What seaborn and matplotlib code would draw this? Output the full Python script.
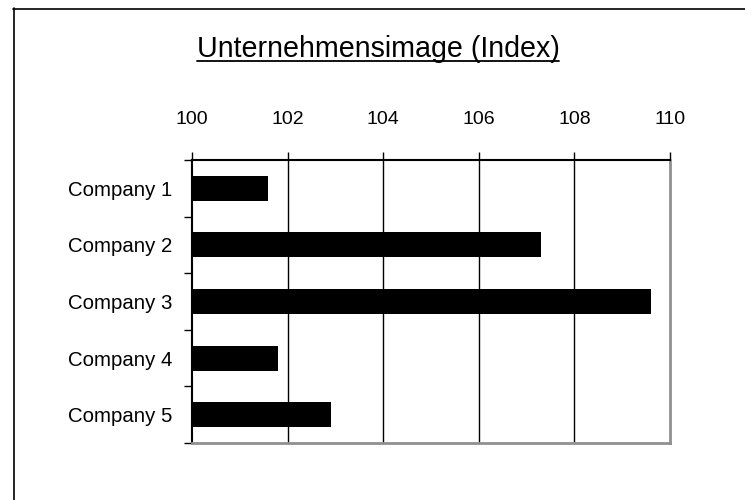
import seaborn as sns
import matplotlib.pyplot as plt
import pandas as pd
from matplotlib.lines import Line2D

# data
companies = ['Company 1', 'Company 2', 'Company 3', 'Company 4', 'Company 5']
index_values = [101.6, 107.3, 109.6, 101.8, 102.9]
x_ticks = [100, 102, 104, 106, 108, 110]

df = pd.DataFrame({'company': companies, 'index': index_values})

sns.set_style('white')
plt.rcParams['font.family'] = ['Liberation Sans', 'DejaVu Sans']
plt.rcParams['text.color'] = 'black'
plt.rcParams['xtick.color'] = 'black'
plt.rcParams['ytick.color'] = 'black'

fig = plt.figure(figsize=(7.45, 5), dpi=100)
ax = fig.add_axes([192 / 745, 1 - 443 / 500, (670 - 192) / 745, (443 - 160) / 500])

sns.barplot(data=df, x='index', y='company', color='black', width=0.44,
            saturation=1, ax=ax, orient='h', linewidth=0, edgecolor='black')

ax.set_xlim(100, 110)
ax.set_ylim(4.5, -0.5)
ax.xaxis.tick_top()
ax.set_xticks(x_ticks)
ax.set_xticklabels([str(t) for t in x_ticks], fontsize=14, color='black')
ax.tick_params(axis='x', direction='out', length=6, width=1, pad=17, color='black')

# category boundary ticks (major) and labels at centres (minor)
ax.set_yticks([i - 0.5 for i in range(len(companies) + 1)])
ax.set_yticklabels([])
ax.set_yticks(range(len(companies)), minor=True)
ax.set_yticklabels(companies, minor=True, fontsize=14.7, color='black')
ax.tick_params(axis='y', which='major', left=True, direction='out', length=6, width=1,
               color='black')
ax.tick_params(axis='y', which='minor', left=True, length=0, pad=14)

ax.set_xlabel('')
ax.set_ylabel('')

for x in x_ticks[1:-1]:
    ax.axvline(x, color='black', lw=1, zorder=0)

ax.spines['top'].set_color('black')
ax.spines['left'].set_color('black')
ax.spines['top'].set_linewidth(1.5)
ax.spines['left'].set_linewidth(1.5)
ax.spines['right'].set_color('#909090')
ax.spines['bottom'].set_color('#909090')
ax.spines['right'].set_linewidth(2)
ax.spines['bottom'].set_linewidth(2)
for s in ax.spines.values():
    s.set_visible(True)

# title with underline
title = fig.text(378 / 745, 1 - 57 / 500, 'Unternehmensimage (Index)', fontsize=20.6,
                 ha='center', va='baseline', color='black')
fig.canvas.draw()
bb = title.get_window_extent()
uy = 1 - 61 / 500
fig.add_artist(Line2D([bb.x0 / 745, bb.x1 / 745], [uy, uy], color='black', lw=1.3,
                      transform=fig.transFigure))

# outer frame (only top and left visible in the crop)
fig.add_artist(Line2D([13 / 745, 1.01], [1 - 8.5 / 500, 1 - 8.5 / 500], color='black', lw=1.2,
                      transform=fig.transFigure))
fig.add_artist(Line2D([13.5 / 745, 13.5 / 745], [1 - 8 / 500, -0.01], color='black', lw=1.2,
                      transform=fig.transFigure))

fig.savefig('out.png', dpi=100)
